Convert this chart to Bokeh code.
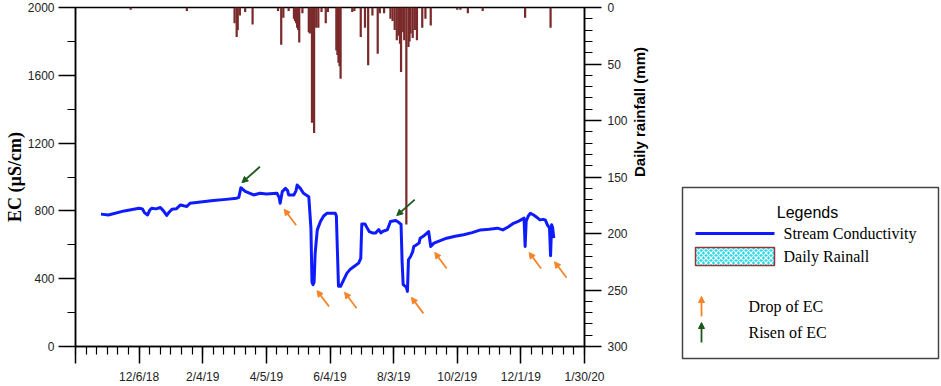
import math
import pandas as pd
from bokeh.plotting import figure
from bokeh.models import Range1d, LinearAxis, FixedTicker, Arrow, NormalHead
from bokeh.layouts import row, column
from bokeh.core.properties import value
from bokeh.embed import file_html
from bokeh.resources import INLINE

# ---------------- data ----------------
ec_dates = [
    "2018-10-31", "2018-11-07", "2018-11-22", "2018-12-06", "2018-12-09", "2018-12-11", "2018-12-14",
    "2018-12-16", "2018-12-18", "2018-12-22", "2018-12-26", "2018-12-29", "2019-01-01", "2019-01-03",
    "2019-01-06", "2019-01-10", "2019-01-14", "2019-01-17", "2019-01-20", "2019-01-23", "2019-02-02",
    "2019-02-14", "2019-02-26", "2019-03-08", "2019-03-10", "2019-03-12", "2019-03-16", "2019-03-24",
    "2019-03-30", "2019-04-05", "2019-04-15", "2019-04-17", "2019-04-18", "2019-04-20", "2019-04-23",
    "2019-04-25", "2019-04-26", "2019-05-01", "2019-05-03", "2019-05-04", "2019-05-07", "2019-05-10",
    "2019-05-15", "2019-05-17", "2019-05-18", "2019-05-19", "2019-05-20", "2019-05-21", "2019-05-23",
    "2019-05-26", "2019-05-29", "2019-06-01", "2019-06-09", "2019-06-10", "2019-06-12", "2019-06-14",
    "2019-06-17", "2019-06-20", "2019-06-23", "2019-06-26", "2019-07-01", "2019-07-03", "2019-07-04",
    "2019-07-07", "2019-07-09", "2019-07-11", "2019-07-14", "2019-07-17", "2019-07-20", "2019-07-22",
    "2019-07-24", "2019-07-28", "2019-07-30", "2019-07-31", "2019-08-05", "2019-08-08", "2019-08-10",
    "2019-08-11", "2019-08-12", "2019-08-14", "2019-08-15", "2019-08-16", "2019-08-17", "2019-08-19",
    "2019-08-21", "2019-08-22", "2019-08-24", "2019-08-27", "2019-08-28", "2019-09-01", "2019-09-05",
    "2019-09-07", "2019-09-10", "2019-09-16", "2019-09-22", "2019-09-30", "2019-10-08", "2019-10-16",
    "2019-10-24", "2019-11-01", "2019-11-09", "2019-11-14", "2019-11-19", "2019-11-24", "2019-11-29",
    "2019-12-04", "2019-12-05", "2019-12-06", "2019-12-08", "2019-12-10", "2019-12-13", "2019-12-15",
    "2019-12-17", "2019-12-19", "2019-12-22", "2019-12-24", "2019-12-26", "2019-12-28", "2019-12-29",
    "2019-12-30", "2019-12-31", "2020-01-01",
]
ec_values = [
    781, 776, 800, 816, 812, 790, 776, 805, 816, 812, 820, 800, 773, 790, 810, 812, 835, 830, 826, 845,
    852, 861, 868, 875, 880, 937, 915, 894, 904, 900, 904, 880, 845, 914, 933, 920, 894, 894, 920, 953,
    933, 904, 884, 700, 380, 365, 380, 550, 688, 737, 770, 786, 786, 770, 355, 355, 395, 433, 455, 469,
    492, 520, 723, 723, 700, 678, 670, 669, 690, 670, 680, 688, 720, 737, 743, 731, 720, 500, 365, 355,
    350, 325, 512, 531, 560, 590, 598, 610, 639, 655, 678, 590, 610, 625, 639, 650, 659, 672, 688, 692,
    698, 688, 705, 727, 740, 757, 590, 740, 770, 786, 776, 767, 757, 747, 750, 747, 718, 700, 535, 718,
    700, 639,
]

rain_dates = [
    "2018-11-28", "2019-01-20", "2019-03-06", "2019-03-08", "2019-03-09", "2019-03-11", "2019-03-16",
    "2019-03-23", "2019-04-16", "2019-04-19", "2019-04-21", "2019-04-26", "2019-05-01", "2019-05-02",
    "2019-05-03", "2019-05-04", "2019-05-05", "2019-05-06", "2019-05-09", "2019-05-15", "2019-05-16",
    "2019-05-18", "2019-05-20", "2019-05-22", "2019-05-24", "2019-05-27", "2019-05-31", "2019-06-02",
    "2019-06-10", "2019-06-11", "2019-06-12", "2019-06-13", "2019-06-14", "2019-06-25", "2019-06-27",
    "2019-07-03", "2019-07-07", "2019-07-10", "2019-07-14", "2019-07-19", "2019-07-21", "2019-07-25",
    "2019-07-31", "2019-08-02", "2019-08-04", "2019-08-06", "2019-08-08", "2019-08-09", "2019-08-10",
    "2019-08-12", "2019-08-13", "2019-08-15", "2019-08-17", "2019-08-18", "2019-08-19", "2019-08-21",
    "2019-08-23", "2019-08-25", "2019-08-30", "2019-09-02", "2019-09-07", "2019-10-02", "2019-10-05",
    "2019-10-12", "2019-10-26", "2019-12-05", "2019-12-29",
]
rain_mm = [
    2, 3, 14, 26, 20, 7, 4,
    15, 3, 33, 9, 3, 10, 12,
    14, 18, 20, 31, 5, 22, 23,
    102, 111, 18, 18, 4, 14, 4,
    38, 42, 49, 52, 63, 4, 3,
    26, 18, 51, 7, 41, 5, 5,
    10, 12, 20, 29, 25, 32, 57,
    22, 29, 192, 35, 30, 23, 27,
    20, 29, 18, 10, 16, 2, 2,
    5, 3, 9, 18,
]

x_tick_dates = ["2018-12-06", "2019-02-04", "2019-04-05", "2019-06-04", "2019-08-03",
                "2019-10-02", "2019-12-01", "2020-01-30"]
x_tick_labels = ["12/6/18", "2/4/19", "4/5/19", "6/4/19", "8/3/19", "10/2/19", "12/1/19", "1/30/20"]
ec_ticks = [0, 400, 800, 1200, 1600, 2000]
rain_ticks = [0, 50, 100, 150, 200, 250, 300]

drop_dates = ["2019-04-18", "2019-05-19", "2019-06-14", "2019-08-16", "2019-09-07", "2019-12-05", "2019-12-29"]
rise_dates = ["2019-03-12", "2019-08-05"]

# ---------------- helpers ----------------
def ms(s):
    return int(pd.Timestamp(s).value // 10**6)

DAY = 86400000
X_START, X_END = "2018-10-07", "2020-01-30"

W_MAIN, W_LEG, H = 668, 273, 386
BL, BR, BT, BB = 75, 84, 7, 39
frame_w = W_MAIN - BL - BR
frame_h = H - BT - BB
ms_per_px = (ms(X_END) - ms(X_START)) / frame_w
ec_per_px = 2000 / frame_h

BLUE = "#0f1bff"
BROWN = "#7a2a2a"
ORANGE = "#f5842a"
GREEN = "#1c5a1c"

p = figure(width=W_MAIN, height=H, output_backend="svg", toolbar_location=None, title=None,
           x_range=Range1d(ms(X_START), ms(X_END)), y_range=Range1d(0, 2000),
           min_border_left=BL, min_border_right=BR, min_border_top=BT, min_border_bottom=BB)
p.extra_y_ranges = {"rain": Range1d(300, 0)}
p.xgrid.grid_line_color = None
p.ygrid.grid_line_color = None
p.outline_line_color = "black"
p.outline_line_width = 1.5
p.background_fill_color = "white"
p.border_fill_color = "white"

# rainfall bars
p.vbar(x=[ms(d) for d in rain_dates], width=2.1 * DAY, bottom=0, top=rain_mm,
       y_range_name="rain", fill_color=BROWN, line_color=None)

# conductivity line
ec_ms = [ms(d) for d in ec_dates]
p.line(ec_ms, ec_values, line_color=BLUE, line_width=3, line_join="round")

# axes
major_x = [ms(X_START)] + [ms(d) for d in x_tick_dates]
minor_x = [int(t.value // 10**6) for t in pd.date_range(X_START, X_END, freq="10D")]
p.xaxis.ticker = FixedTicker(ticks=major_x, minor_ticks=minor_x)
overrides = {ms(X_START): ""}
for d, lab in zip(x_tick_dates, x_tick_labels):
    overrides[ms(d)] = lab
p.xaxis.major_label_overrides = overrides

ax_r = LinearAxis(y_range_name="rain",
                  ticker=FixedTicker(ticks=rain_ticks, minor_ticks=list(range(10, 300, 10))))
ax_r.axis_label = "Daily rainfall (mm)"
ax_r.axis_label_text_font = "Liberation Sans"
ax_r.axis_label_text_font_style = "bold"
ax_r.axis_label_text_font_size = "15px"
ax_r.axis_label_text_color = "black"
ax_r.axis_label_standoff = 9
if "axis_label_orientation" in ax_r.properties():
    ax_r.axis_label_orientation = math.pi / 2
p.add_layout(ax_r, "right")

for ax in p.axis:
    ax.axis_line_color = "black"
    ax.axis_line_width = 1.5
    ax.major_tick_line_color = "black"
    ax.minor_tick_line_color = "black"
    ax.major_tick_line_width = 1.5
    ax.minor_tick_line_width = 1.2
    ax.major_tick_in = 0
    ax.minor_tick_in = 0
    ax.major_tick_out = 17
    ax.minor_tick_out = 8
    ax.major_label_text_font = "Liberation Sans"
    ax.major_label_text_font_size = "12px"
    ax.major_label_text_color = "#222222"
    ax.major_label_standoff = 6

ax_l = p.left[0]
ax_l.ticker = FixedTicker(ticks=ec_ticks, minor_ticks=list(range(200, 2000, 400)))
ax_l.axis_label = "EC (µS/cm)"
ax_l.axis_label_text_font = "Liberation Serif"
ax_l.axis_label_text_font_style = "bold"
ax_l.axis_label_text_font_size = "18px"
ax_l.axis_label_text_color = "black"
ax_l.axis_label_standoff = 0
ax_l.major_label_standoff = 4

# annotation arrows
ec_lookup = dict(zip(ec_dates, ec_values))
for d in drop_dates:
    x0, v0 = ms(d), ec_lookup[d]
    p.add_layout(Arrow(end=NormalHead(size=6, fill_color=ORANGE, line_color=ORANGE),
                       x_start=x0 + 16 * ms_per_px, y_start=v0 - 22 * ec_per_px,
                       x_end=x0 + 4 * ms_per_px, y_end=v0 - 6 * ec_per_px,
                       line_color=ORANGE, line_width=1.8))
for d in rise_dates:
    x0, v0 = ms(d), ec_lookup[d]
    p.add_layout(Arrow(end=NormalHead(size=6, fill_color=GREEN, line_color=GREEN),
                       x_start=x0 + 19 * ms_per_px, y_start=v0 + 21 * ec_per_px,
                       x_end=x0 + 1 * ms_per_px, y_end=v0 + 5 * ec_per_px,
                       line_color=GREEN, line_width=1.8))

# ---------------- legend panel ----------------
q = figure(width=W_LEG, height=H, output_backend="svg", toolbar_location=None, title=None,
           x_range=Range1d(0, W_LEG), y_range=Range1d(H, 0), min_border=0,
           x_axis_location=None, y_axis_location=None)
q.outline_line_color = None
q.grid.grid_line_color = None
q.background_fill_color = "white"
q.border_fill_color = "white"

q.quad(left=[14], right=[270], top=[187], bottom=[358], fill_color=None,
       line_color="#444444", line_width=1.5)
q.text(x=[139], y=[212], text=["Legends"], text_font=value("Liberation Sans"),
       text_font_size="16px", text_align="center", text_baseline="middle", text_color="black")
q.line(x=[27, 106], y=[233, 233], line_color=BLUE, line_width=3)
q.quad(left=[27], right=[106], top=[247], bottom=[265], fill_color="#22dbee",
       hatch_pattern="x", hatch_color="white", hatch_scale=5, hatch_weight=1.2,
       line_color="#8b3a3a", line_width=1.5)
q.text(x=[115, 115, 80, 80], y=[233, 256, 306, 332],
       text=["Stream Conductivity", "Daily Rainall", "Drop of EC", "Risen of EC"],
       text_font=value("Liberation Serif"), text_font_size="16px",
       text_baseline="middle", text_color="black")
q.add_layout(Arrow(end=NormalHead(size=6, fill_color=ORANGE, line_color=ORANGE),
                   x_start=33, y_start=316, x_end=33, y_end=296,
                   line_color=ORANGE, line_width=1.8))
q.add_layout(Arrow(end=NormalHead(size=6, fill_color=GREEN, line_color=GREEN),
                   x_start=33, y_start=342, x_end=33, y_end=322,
                   line_color=GREEN, line_width=1.8))

layout = row(p, column(q))
open("out.html", "w").write(file_html(layout, INLINE))
